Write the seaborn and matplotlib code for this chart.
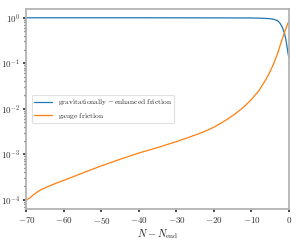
"""
plot.py
-------
Friction fractions vs e-folds before end of inflation (log scale).

Output:
    out.png
"""

import pandas as pd
import matplotlib
matplotlib.use("Agg")
import matplotlib.pyplot as plt
import seaborn as sns

# =========================
# Data
# =========================
N_grav = [-70, -40, -20, -10, -7, -5, -4, -3, -2.4, -1.8, -1.2, -0.8, -0.5, -0.2, 0]
Q_grav = [0.995, 0.995, 0.99, 0.985, 0.97, 0.95, 0.92, 0.86, 0.76, 0.63, 0.46,
          0.33, 0.23, 0.16, 0.13]

N_gauge = [-70, -69, -68, -67, -66, -64, -62, -60, -55, -50, -45, -40, -35, -30,
           -25, -22, -20, -18, -16, -14, -12, -10, -8, -6, -5, -4, -3, -2, -1,
           -0.5, 0]
Q_gauge = [1.0e-4, 1.12e-4, 1.32e-4, 1.51e-4, 1.70e-4, 2.0e-4, 2.34e-4, 2.69e-4,
           3.9e-4, 5.6e-4, 7.8e-4, 1.07e-3, 1.41e-3, 1.9e-3, 2.65e-3, 3.3e-3,
           3.95e-3, 4.9e-3, 6.2e-3, 8.1e-3, 1.1e-2, 1.6e-2, 2.5e-2, 4.6e-2,
           6.6e-2, 0.10, 0.165, 0.30, 0.52, 0.67, 0.85]

LABELS = [r"$\mathrm{gravitationally}-\mathrm{enhanced\ friction}$",
          r"$\mathrm{gauge\ friction}$"]
X_TICKS = [-70, -60, -50, -40, -30, -20, -10, 0]

# =========================
# Style
# =========================
sns.set_theme(style="ticks")
plt.rcParams.update({
    "font.family": "serif",
    "font.serif": ["cmr10", "DejaVu Serif"],
    "mathtext.fontset": "cm",
    "axes.formatter.use_mathtext": True,
    "axes.edgecolor": "0.7",
    "axes.linewidth": 1.3,
    "xtick.labelsize": 6.5,
    "ytick.labelsize": 6.5,
    "xtick.major.size": 2.5,
    "ytick.major.size": 2.5,
    "ytick.minor.size": 1.5,
    "xtick.color": "0.2",
    "ytick.color": "0.2",
})

df_grav = pd.DataFrame({"N": N_grav, "Q": Q_grav})
df_gauge = pd.DataFrame({"N": N_gauge, "Q": Q_gauge})

fig, ax = plt.subplots(figsize=(3.0, 2.4), dpi=100)
fig.subplots_adjust(left=0.088, right=0.963, bottom=0.129, top=0.9625)

sns.lineplot(data=df_grav, x="N", y="Q", ax=ax, color="#1f77b4", lw=0.9, label=LABELS[0])
sns.lineplot(data=df_gauge, x="N", y="Q", ax=ax, color="#ff7f0e", lw=0.9, label=LABELS[1])

ax.set_yscale("log")
ax.set_xlim(-70, 0)
ax.set_ylim(6.3e-5, 1.55)
ax.set_xticks(X_TICKS)
ax.set_xlabel(r"$N - N_{\rm end}$", fontsize=7.5, labelpad=0.5)
ax.set_ylabel("")
ax.tick_params(axis="both", pad=2)

leg = ax.legend(loc="center left", fontsize=5.4, frameon=True, fancybox=True,
                handlelength=2.4, handletextpad=0.7, borderpad=0.35,
                labelspacing=0.45, borderaxespad=0.7)
leg.get_frame().set_edgecolor("0.85")
leg.get_frame().set_linewidth(0.8)

plt.savefig("out.png", dpi=100)
print("saved out.png")
